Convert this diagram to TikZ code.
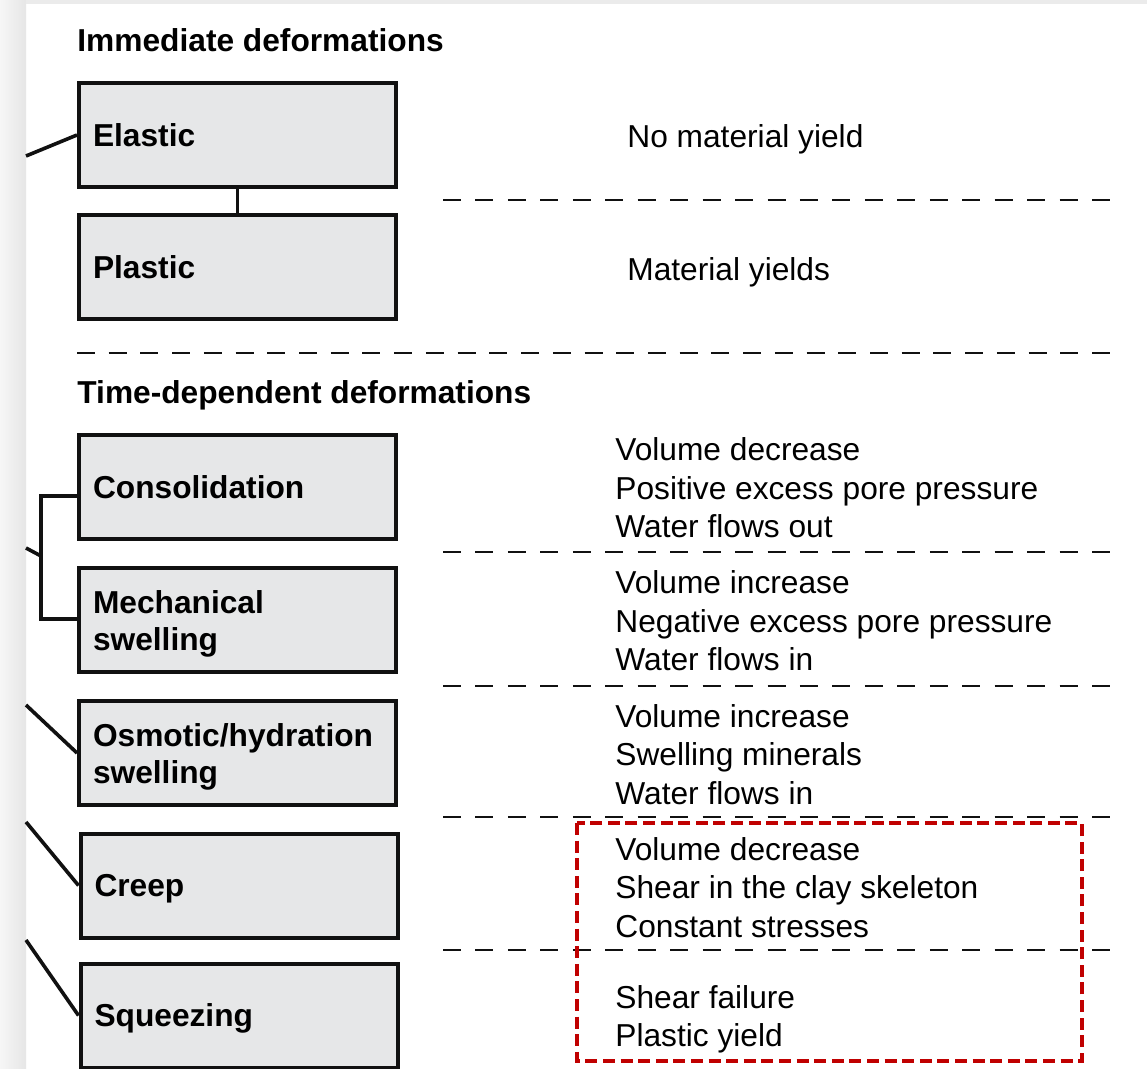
\documentclass[tikz,border=0pt]{standalone}
\usepackage{fontspec}
\setmainfont{Liberation Sans}
\definecolor{boxfill}{HTML}{E6E7E8}
\definecolor{ink}{HTML}{111111}
\definecolor{redline}{HTML}{C00000}
\definecolor{stripL}{HTML}{F6F6F6}
\definecolor{stripR}{HTML}{E6E6E6}
\definecolor{stripT}{HTML}{EBEBEB}
\newcommand\fsz{\fontsize{15.85pt}{19.25pt}\selectfont}
\newcommand\bsz{\fontsize{15.85pt}{18.5pt}\selectfont\bfseries}
\newcommand\lines[1]{\begin{tabular}[t]{@{}l@{}}#1\end{tabular}}
\newcommand\topstrut{\rule{0pt}{15.4pt}}
\begin{document}
\begin{tikzpicture}[x=0.5pt,y=-0.5pt,
  box/.style={draw=ink,line width=2pt,fill=boxfill,inner xsep=7pt,inner ysep=0pt,
    text width=144.5pt,minimum height=52pt,align=left,font=\bsz,anchor=center},
  flatbox/.style={box,text depth=0pt},
  conn/.style={draw=ink,line width=1.8pt},
  sepline/.style={draw=ink,line width=1.2pt,dash pattern=on 9pt off 7.225pt},
  seplong/.style={draw=ink,line width=1.2pt,dash pattern=on 9pt off 6.86pt},
  title/.style={anchor=base west,inner sep=0pt,font=\fsz\bfseries},
  desc/.style={anchor=base west,inner sep=0pt,font=\fsz},
  highlight/.style={draw=redline,line width=1.8pt,dash pattern=on 6pt off 2.8pt}
]
\useasboundingbox (0,0) rectangle (1147,1069);
\fill[white] (0,0) rectangle (1147,1069);
\shade[left color=stripL,right color=stripR] (0,0) rectangle (26,1069);
\fill[stripT] (26,0) rectangle (1147,4);

% titles
\node[title] (t1) at (77,52) {Immediate deformations};
\node[title] (t2) at (77,404) {Time-dependent deformations};

% boxes
\node[box] (el) at (237.5,135) {Elastic};
\node[box] (pl) at (237.5,267.5) {Plastic};
\node[box] (co) at (237.5,487.5) {Consolidation};
\node[box] (me) at (237.5,620) {\topstrut Mechanical\\swelling};
\node[box] (os) at (237.5,753) {\topstrut Osmotic/hydration\\swelling};
\node[flatbox] (cr) at (239,885.5) {Creep};
\node[flatbox] (sq) at (239,1015.5) {Squeezing};

% connectors
\draw[conn] (el.south) -- (pl.north);
\coordinate (inEl) at (26,156);
\draw[conn] (inEl) -- (el.west);
\coordinate (brT) at (41,496);
\coordinate (brB) at (41,619);
\draw[conn] (co.west |- brT) -- (brT) -- (brB) -- (me.west |- brB);
\coordinate (inCM) at (26,548);
\coordinate (brJ) at (41,556);
\draw[conn] (inCM) -- (brJ);
\coordinate (inOs) at (26,705);
\draw[conn] (inOs) -- (os.west);
\coordinate (inCr) at (26,822);
\draw[conn] (inCr) -- (cr.west);
\coordinate (inSq) at (26,940);
\draw[conn] (inSq) -- (sq.west);

% separators
\draw[sepline] (443,200) -- (1110,200);
\draw[seplong] (77,353) -- (1110,353);
\draw[sepline] (443,552) -- (1110,552);
\draw[sepline] (443,686) -- (1110,686);
\draw[sepline] (443,817) -- (1110,817);
\draw[sepline] (443,950) -- (1110,950);

% descriptions
\node[desc] (d1) at (627,148) {No material yield};
\node[desc] (d2) at (627,281) {Material yields};
\node[desc] (d3) at (615,461) {\lines{Volume decrease\\Positive excess pore pressure\\Water flows out}};
\node[desc] (d4) at (615,594) {\lines{Volume increase\\Negative excess pore pressure\\Water flows in}};
\node[desc] (d5) at (615,727) {\lines{Volume increase\\Swelling minerals\\Water flows in}};
\node[desc] (d6) at (615,860) {\lines{Volume decrease\\Shear in the clay skeleton\\Constant stresses}};
\node[desc] (d7) at (615,1008) {\lines{Shear failure\\Plastic yield}};

% highlight
\draw[highlight] (577,823) rectangle (1082,1061);
\end{tikzpicture}
\end{document}
